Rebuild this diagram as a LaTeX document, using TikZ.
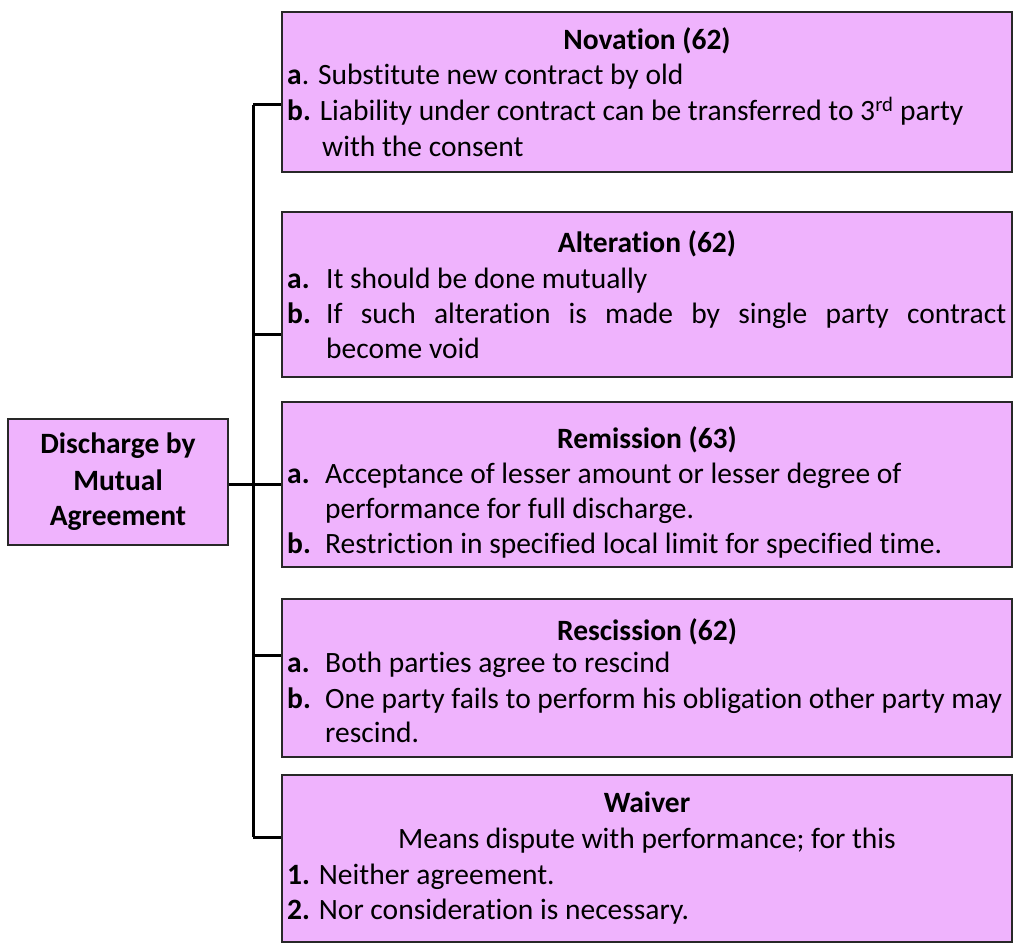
\documentclass[tikz,border=0pt]{standalone}
\usepackage{fontspec}
\setmainfont[Ligatures={NoCommon}]{Carlito}
\definecolor{boxfill}{RGB}{239,179,253}
\definecolor{boxline}{RGB}{40,40,40}
\begin{document}
\begin{tikzpicture}[x=1pt,y=-1pt,
  box/.style={draw=boxline,fill=boxfill,line width=1.6pt,rectangle,inner sep=0pt},
  conn/.style={draw=black,line width=3pt},
  txt/.style={anchor=base west,inner sep=0pt,font=\fontsize{29.5}{35}\selectfont},
  ttl/.style={anchor=base,inner sep=0pt,font=\fontsize{29.5}{35}\selectfont\bfseries},
  lbl/.style={anchor=base west,inner sep=0pt,font=\fontsize{29.5}{35}\selectfont\bfseries}]
\useasboundingbox (0,0) rectangle (1016,944);
% boxes
\node[box,minimum width=220pt,minimum height=126pt] (left) at (118,482) {};
\node[box,minimum width=730pt,minimum height=160pt] (nov) at (647,92) {};
\node[box,minimum width=730pt,minimum height=165pt] (alt) at (647,294.5) {};
\node[box,minimum width=730pt,minimum height=165pt] (rem) at (647,484.5) {};
\node[box,minimum width=730pt,minimum height=158pt] (res) at (647,678) {};
\node[box,minimum width=730pt,minimum height=167pt] (wav) at (647,858.5) {};
% left box text
\node[ttl] (l1) at (118,453) {Discharge by};
\node[ttl] (l2) at (118,490) {Mutual};
\node[ttl] (l3) at (118,525) {Agreement};
% bus coordinates
\coordinate (bN) at (253,105);
\coordinate (bA) at (253,334);
\coordinate (bR) at (253,484);
\coordinate (bS) at (253,655);
\coordinate (bW) at (253,837);
\draw[conn] (bN) -- (bW);
\draw[conn] (left.east |- bR) -- (bR -| rem.west);
\draw[conn] (bN) -- (bN -| nov.west);
\draw[conn] (bA) -- (bA -| alt.west);
\draw[conn] (bS) -- (bS -| res.west);
\draw[conn] (bW) -- (bW -| wav.west);
% Novation
\node[ttl] (nt) at (647,50) {Novation (62)};
\node[txt] (na) at (287,85) {\textbf{a}. Substitute new contract by old};
\node[txt] (nb) at (287,121) {\textbf{b.} Liability under contract can be transferred to 3\textsuperscript{rd} party};
\node[txt] (nc) at (322,157) {with the consent};
% Alteration
\node[ttl] (at) at (647,252) {Alteration (62)};
\node[lbl] (aal) at (287,288) {a.};
\node[txt] (aa) at (326,288) {It should be done mutually};
\node[lbl] (abl) at (287,323) {b.};
\node[txt] (ab) at (326,323) {\makebox[680pt][s]{If such alteration is made by single party contract}};
\node[txt] (ac) at (326,358) {become void};
% Remission
\node[ttl] (rt) at (647,448) {Remission (63)};
\node[lbl] (ral) at (287,483) {a.};
\node[txt] (ra) at (325,483) {Acceptance of lesser amount or lesser degree of};
\node[txt] (rb) at (325,518) {performance for full discharge.};
\node[lbl] (rcl) at (287,553) {b.};
\node[txt] (rc) at (325,553) {Restriction in specified local limit for specified time.};
% Rescission
\node[ttl] (st) at (647,640) {Rescission (62)};
\node[lbl] (sal) at (287,672) {a.};
\node[txt] (sa) at (325,672) {Both parties agree to rescind};
\node[lbl] (sbl) at (287,708) {b.};
\node[txt] (sb) at (325,708) {One party fails to perform his obligation other party may};
\node[txt] (sc) at (325,742) {rescind.};
% Waiver
\node[ttl] (wt) at (647,812) {Waiver};
\node[anchor=base,inner sep=0pt,font=\fontsize{29.5}{35}\selectfont] (wm) at (647,848) {Means dispute with performance; for this};
\node[txt] (wa) at (287,884) {\textbf{1.} Neither agreement.};
\node[txt] (wb) at (287,919) {\textbf{2.} Nor consideration is necessary.};
\end{tikzpicture}
\end{document}
